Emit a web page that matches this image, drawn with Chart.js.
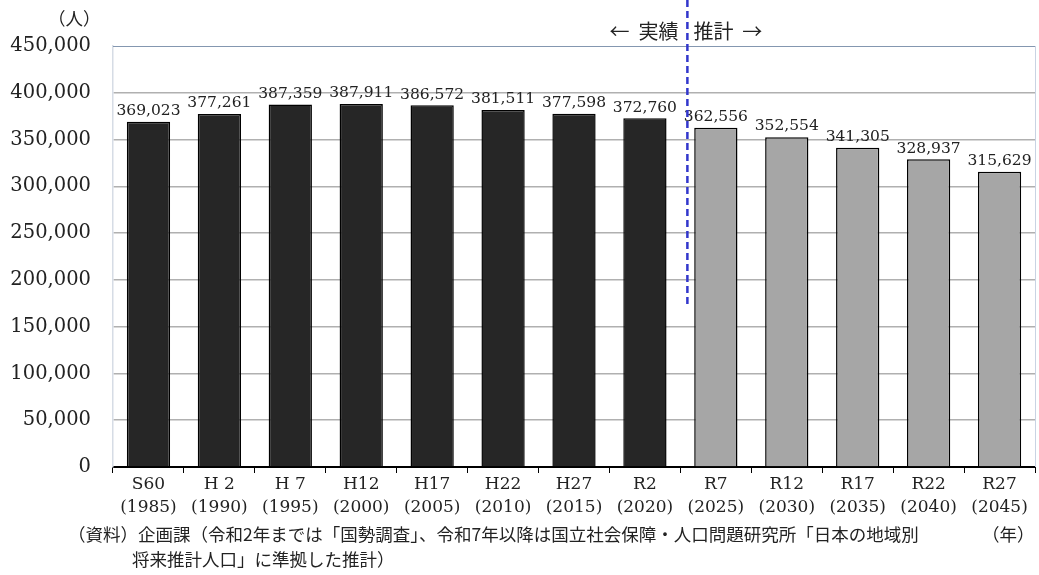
<!DOCTYPE html>
<html>
<head>
<meta charset="utf-8">
<script src="https://cdn.jsdelivr.net/npm/chart.js@4"></script>
<style>
  html, body { margin: 0; padding: 0; background: #fff; }
  #wrap { width: 1039px; height: 575px; position: relative; }
</style>
</head>
<body>
<div id="wrap"><canvas id="popChart"></canvas></div>
<script>
const eraLabels = ["S60", "H 2", "H 7", "H12", "H17", "H22", "H27", "R2", "R7", "R12", "R17", "R22", "R27"];
const yearLabels = ["(1985)", "(1990)", "(1995)", "(2000)", "(2005)", "(2010)", "(2015)", "(2020)", "(2025)", "(2030)", "(2035)", "(2040)", "(2045)"];
const population = [369023, 377261, 387359, 387911, 386572, 381511, 377598, 372760, 362556, 352554, 341305, 328937, 315629];
const actualCount = 8; // 実績の本数（残りは推計）
const yTicks = [0, 50000, 100000, 150000, 200000, 250000, 300000, 350000, 400000, 450000];

const serif = "'DejaVu Serif', serif";
const gothic = "'Noto Sans CJK JP', sans-serif";

const labels = eraLabels.map((e, i) => [e, yearLabels[i]]);
const barColors = population.map((v, i) => i < actualCount ? "#262626" : "#a6a6a6");

const valueLabels = {
  id: "valueLabels",
  afterDatasetsDraw(chart) {
    const ctx = chart.ctx;
    const meta = chart.getDatasetMeta(0);
    ctx.save();
    ctx.font = "15.5px " + serif;
    ctx.fillStyle = "#222";
    ctx.textAlign = "center";
    ctx.textBaseline = "bottom";
    meta.data.forEach((bar, i) => {
      ctx.fillText(population[i].toLocaleString("en-US"), bar.x, bar.y - 3);
    });
    ctx.restore();
  }
};

const extras = {
  id: "extras",
  afterDraw(chart) {
    const ctx = chart.ctx;
    const area = chart.chartArea;
    const x = chart.scales.x;
    ctx.save();
    // 枠線
    ctx.strokeStyle = "#8497b0";
    ctx.lineWidth = 1;
    ctx.beginPath();
    ctx.moveTo(area.left, area.top + 0.5);
    ctx.lineTo(area.right, area.top + 0.5);
    ctx.stroke();
    ctx.strokeStyle = "#c9d3e3";
    ctx.beginPath();
    ctx.moveTo(area.right + 0.5, area.top);
    ctx.lineTo(area.right + 0.5, area.bottom);
    ctx.stroke();

    // 実績 / 推計 の境界
    const bx = x.getPixelForValue(actualCount - 0.5) + 7;
    ctx.strokeStyle = "#3236cc";
    ctx.lineWidth = 2.5;
    ctx.setLineDash([7, 4]);
    ctx.beginPath();
    ctx.moveTo(bx, 0);
    ctx.lineTo(bx, 305);
    ctx.stroke();
    ctx.setLineDash([]);

    ctx.fillStyle = "#222";
    ctx.font = "20px " + gothic;
    ctx.textBaseline = "middle";
    ctx.textAlign = "right";
    ctx.fillText("←  実績", bx - 9, 31);
    ctx.textAlign = "left";
    ctx.fillText("推計  →", bx + 6, 31);

    // 単位
    ctx.font = "17.5px " + gothic;
    ctx.textAlign = "left";
    ctx.fillText("（人）", 48, 18);
    ctx.fillText("（年）", 982, 534);

    // 出典
    ctx.fillText("（資料）企画課（令和2年までは「国勢調査」、令和7年以降は国立社会保障・人口問題研究所「日本の地域別", 68, 534);
    ctx.fillText("将来推計人口」に準拠した推計）", 132, 559);
    ctx.restore();
  }
};

new Chart(document.getElementById("popChart"), {
  type: "bar",
  data: {
    labels: labels,
    datasets: [{
      data: population,
      backgroundColor: barColors,
      borderColor: "#000",
      borderWidth: 1.5,
      barPercentage: 0.61,
      categoryPercentage: 1.0
    }]
  },
  options: {
    responsive: true,
    maintainAspectRatio: false,
    animation: false,
    layout: { padding: { left: 0, top: 46, right: 4, bottom: 0 } },
    plugins: {
      legend: { display: false },
      tooltip: { enabled: false }
    },
    scales: {
      x: {
        grid: {
          offset: true,
          drawOnChartArea: false,
          drawTicks: true,
          tickLength: 6,
          color: "#000"
        },
        border: { color: "#000", width: 2 },
        ticks: {
          color: "#222",
          padding: 1,
          maxRotation: 0,
          autoSkip: false,
          font: { family: serif, size: 17, lineHeight: 1.3 }
        },
        afterFit(scale) { scale.height = 108; }
      },
      y: {
        min: 0,
        max: 450000,
        afterBuildTicks(scale) { scale.ticks = yTicks.map(v => ({ value: v })); },
        grid: {
          drawTicks: false,
          lineWidth: 1.5,
          color: ctx => ctx.tick && ctx.tick.value === 450000 ? "rgba(0,0,0,0)" : "#b0b0b0"
        },
        border: { color: "#d6dce5", width: 1.5 },
        ticks: {
          color: "#222",
          padding: 22,
          font: { family: serif, size: 19.5 },
          callback: v => v.toLocaleString("en-US")
        },
        afterFit(scale) { scale.width = 113; }
      }
    }
  },
  plugins: [valueLabels, extras]
});
</script>
</body>
</html>
